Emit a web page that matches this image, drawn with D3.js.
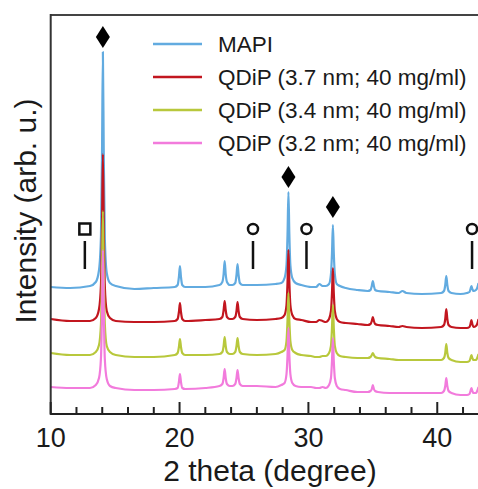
<!DOCTYPE html>
<html lang="en">
<head>
<meta charset="utf-8">
<title>XRD patterns</title>
<script src="https://d3js.org/d3.v7.min.js"></script>
<style>
  body { margin: 0; background: #fff; }
  text { font-family: "Liberation Sans", Arial, sans-serif; fill: #1a1a1a; }
</style>
</head>
<body>
<script>
// 2 theta sample positions (shared by all four patterns)
var theta = [
  10, 11.5, 13.05, 13.5, 13.75, 13.9, 13.98, 14.05, 14.12, 14.2, 14.35, 14.6, 15.05,
  16.5, 18,
  19.63, 19.85, 19.95, 20.03, 20.11, 20.21, 20.43,
  22,
  23.1, 23.32, 23.42, 23.5, 23.58, 23.68, 23.9,
  24.1, 24.32, 24.42, 24.5, 24.58, 24.68, 24.9,
  26,
  27.45, 27.9, 28.15, 28.3, 28.38, 28.45, 28.52, 28.6, 28.75, 29.0, 29.45,
  30.2, 30.6, 30.85, 31.1,
  31.35, 31.6, 31.75, 31.83, 31.9, 31.97, 32.05, 32.2, 32.45, 32.9,
  33.8,
  34.6, 34.82, 34.92, 35.0, 35.08, 35.18, 35.4,
  36.3, 37.0, 37.3, 37.6, 38.8,
  40.3, 40.52, 40.62, 40.7, 40.78, 40.88, 41.1,
  41.8,
  42.3, 42.5, 42.58, 42.65, 42.72, 42.82, 43.0, 43.1, 43.2
];

// intensities (arb. u.), relative to each pattern's own offset
var mapi = [
  1, 0, 2, 6, 18, 52, 130, 236, 130, 50, 15, 5, 2,
  -1, 0,
  1, 3, 11, 22, 11, 3, 1,
  1,
  3, 6, 14, 27, 14, 6, 3,
  3, 5, 13, 24, 13, 5, 3,
  3,
  4, 5, 10, 23, 54, 96, 54, 23, 10, 5, 3,
  1, 1, 4, 2,
  2, 4, 14, 35, 63, 35, 14, 4, 2, 0,
  -2,
  -3, -2, 2, 7, 2, -2, -3,
  -4, -5, -3, -5, -6,
  -5, -3, 3, 12, 3, -3, -5,
  -6,
  -5, -4, -1, 2, -1, -3, -2, 0, 5
];
var qdip37 = [
  3, 1, 1, 4, 13, 37, 92, 168, 92, 36, 11, 4, 1,
  0, 0,
  1, 3, 10, 19, 10, 3, 1,
  2,
  3, 5, 12, 21, 12, 5, 3,
  3, 5, 11, 20, 11, 5, 3,
  2,
  3, 4, 7, 17, 40, 72, 40, 17, 7, 3, 2,
  0, 0, 2, 1,
  0, 3, 11, 29, 54, 29, 11, 3, 0, -1,
  -2,
  -3, -2, 1, 5, 1, -2, -3,
  -4, -5, -4, -5, -6,
  -5, -3, 3, 13, 3, -3, -5,
  -6,
  -6, -5, -2, 2, -2, -5, -4, -2, 3
];
var qdip34 = [
  2, 0, 0, 3, 10, 31, 79, 144, 79, 31, 9, 3, 0,
  -2, -2,
  0, 2, 8, 16, 8, 2, 0,
  0,
  1, 3, 9, 18, 9, 3, 1,
  1, 3, 9, 17, 9, 3, 1,
  0,
  1, 3, 5, 14, 35, 62, 35, 14, 5, 2, 0,
  -1, -2, -2, -1,
  -1, 2, 9, 27, 50, 27, 9, 2, -1, -2,
  -3,
  -3, -2, 0, 2, 0, -2, -3,
  -4, -5, -5, -5, -5,
  -5, -3, 2, 11, 2, -3, -5,
  -7,
  -7, -6, -3, 0, -3, -5, -5, -3, 1
];
var qdip32 = [
  2, 1, 1, 4, 11, 31, 76, 139, 76, 30, 10, 3, 1,
  -1, -1,
  0, 1, 7, 15, 7, 1, 0,
  1,
  3, 5, 11, 20, 11, 5, 3,
  3, 5, 11, 19, 11, 5, 3,
  3,
  2, 4, 6, 15, 34, 61, 34, 15, 6, 3, 2,
  2, 1, 1, 2,
  1, 4, 11, 28, 51, 28, 11, 3, 0, -1,
  -3,
  -3, -2, 0, 4, 0, -2, -3,
  -4, -4, -4, -4, -4,
  -4, -2, 3, 11, 3, -2, -4,
  -6,
  -6, -5, -2, 1, -2, -4, -4, -2, 2
];

var seriesNames = ["MAPI", "QDiP (3.7 nm; 40 mg/ml)", "QDiP (3.4 nm; 40 mg/ml)", "QDiP (3.2 nm; 40 mg/ml)"];
var seriesValues = [mapi, qdip37, qdip34, qdip32];
var seriesOffsets = [126, 92, 59, 25];
var seriesColors = ["#62abe0", "#c2161f", "#b8c83c", "#f27bdc"];

// peak markers
var diamondTheta = [14.05, 28.45, 31.9];
var diamondLevel = [377, 237, 207];
var phaseTheta = [12.65, 25.7, 29.85, 42.7];
var phaseShape = ["square", "circle", "circle", "circle"];
var phaseLevel = 185, phaseLineTop = 173, phaseLineBottom = 145;

var majorTicks = [10, 20, 30, 40];
var minorTicks = [12, 14, 16, 18, 22, 24, 26, 28, 32, 34, 36, 38, 42];

if (theta.length !== mapi.length || theta.length !== qdip37.length ||
    theta.length !== qdip34.length || theta.length !== qdip32.length) {
  console.error("length mismatch");
}

//canvas
var width = 478, height = 489;
var padL = 50.7, padR = 478.5, padT = 15, padB = 414;

var svg = d3.select("body").append("svg")
  .attr("width", width)
  .attr("height", height);

var x = d3.scaleLinear().domain([10, 43.2]).range([padL, padR]);
var y = d3.scaleLinear().domain([0, 399]).range([padB, padT]);

svg.append("clipPath").attr("id", "plot")
  .append("rect")
  .attr("x", padL).attr("y", padT)
  .attr("width", width - padL).attr("height", padB - padT);

// patterns, MAPI first so the others sit on top
var g = svg.append("g").attr("clip-path", "url(#plot)");
seriesValues.forEach(function(vals, i) {
  var line = d3.line()
    .x(function(d, j) { return x(theta[j]); })
    .y(function(d) { return y(d + seriesOffsets[i]); })
    .curve(d3.curveMonotoneX);
  g.append("path")
    .datum(vals)
    .attr("fill", "none")
    .attr("stroke", seriesColors[i])
    .attr("stroke-width", 2.2)
    .attr("stroke-linejoin", "round")
    .attr("d", line);
});

// frame
svg.append("line").attr("x1", padL).attr("x2", width).attr("y1", padT).attr("y2", padT)
  .attr("stroke", "#444").attr("stroke-width", 2);
svg.append("line").attr("x1", padL).attr("x2", padL).attr("y1", padT - 1).attr("y2", padB + 1)
  .attr("stroke", "#333").attr("stroke-width", 2);
svg.append("line").attr("x1", padL).attr("x2", width).attr("y1", padB).attr("y2", padB)
  .attr("stroke", "#222").attr("stroke-width", 2);

// ticks (inward)
svg.selectAll(".major").data(majorTicks).enter().append("line")
  .attr("x1", function(d) { return x(d); }).attr("x2", function(d) { return x(d); })
  .attr("y1", padB).attr("y2", padB - 12)
  .attr("stroke", "#222").attr("stroke-width", 2);
svg.selectAll(".minor").data(minorTicks).enter().append("line")
  .attr("x1", function(d) { return x(d); }).attr("x2", function(d) { return x(d); })
  .attr("y1", padB).attr("y2", padB - 7)
  .attr("stroke", "#222").attr("stroke-width", 2);

svg.selectAll(".ticklabel").data(majorTicks).enter().append("text")
  .attr("x", function(d) { return x(d); })
  .attr("y", 447)
  .attr("text-anchor", "middle")
  .style("font-size", "27px")
  .text(function(d) { return d; });

// axis titles
svg.append("text")
  .attr("x", 270).attr("y", 481)
  .attr("text-anchor", "middle")
  .style("font-size", "30px")
  .text("2 theta (degree)");
svg.append("text")
  .attr("transform", "translate(36,211) rotate(-90)")
  .attr("text-anchor", "middle")
  .style("font-size", "30px")
  .text("Intensity (arb. u.)");

// diamonds
svg.selectAll(".diamond").data(diamondTheta).enter().append("path")
  .attr("transform", function(d, i) { return "translate(" + x(d) + "," + y(diamondLevel[i]) + ")"; })
  .attr("d", "M0,-11L7,0L0,11L-7,0Z")
  .attr("fill", "#000");

// phase markers: symbol with a short bar
phaseTheta.forEach(function(t, i) {
  var px = x(t);
  svg.append("line")
    .attr("x1", px).attr("x2", px)
    .attr("y1", y(phaseLineTop)).attr("y2", y(phaseLineBottom))
    .attr("stroke", "#111").attr("stroke-width", 2.5);
  if (phaseShape[i] === "square") {
    svg.append("rect")
      .attr("x", px - 5.5).attr("y", y(phaseLevel) - 5.5)
      .attr("width", 11).attr("height", 11)
      .attr("fill", "#fff").attr("stroke", "#111").attr("stroke-width", 2.5);
  } else {
    svg.append("circle")
      .attr("cx", px).attr("cy", y(phaseLevel)).attr("r", 5)
      .attr("fill", "#fff").attr("stroke", "#111").attr("stroke-width", 2.5);
  }
});

// legend
var legend = svg.append("g");
seriesNames.forEach(function(name, i) {
  var ly = 44 + i * 33;
  legend.append("line")
    .attr("x1", 153).attr("x2", 202).attr("y1", ly).attr("y2", ly)
    .attr("stroke", seriesColors[i]).attr("stroke-width", 2.5);
  legend.append("text")
    .attr("x", 218).attr("y", ly + 8)
    .style("font-size", "22.5px")
    .text(name);
});
</script>
</body>
</html>
